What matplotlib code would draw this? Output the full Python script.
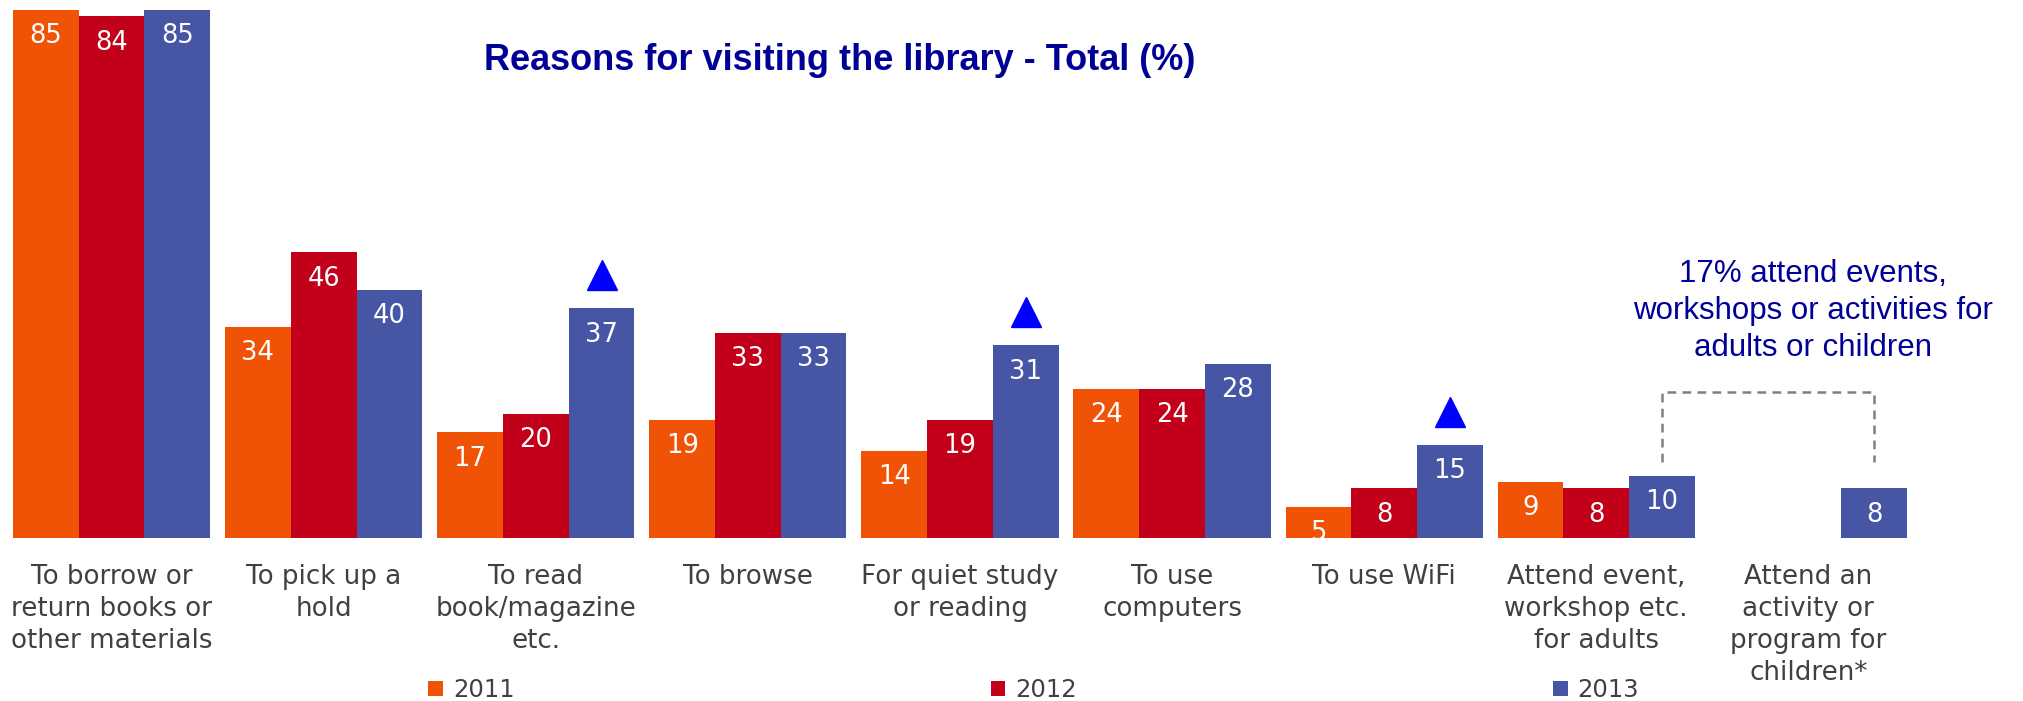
import numpy as np
import matplotlib.pyplot as plt

# survey results, % of visitors
categories = [
    "To borrow or\nreturn books or\nother materials",
    "To pick up a\nhold",
    "To read\nbook/magazine\netc.",
    "To browse",
    "For quiet study\nor reading",
    "To use\ncomputers",
    "To use WiFi",
    "Attend event,\nworkshop etc.\nfor adults",
    "Attend an\nactivity or\nprogram for\nchildren*",
]
y2011 = [85, 34, 17, 19, 14, 24, 5, 9, np.nan]
y2012 = [84, 46, 20, 33, 19, 24, 8, 8, np.nan]
y2013 = [85, 40, 37, 33, 31, 28, 15, 10, 8]
years = ["2011", "2012", "2013"]
# categories with a significant increase in 2013
increase = [2, 4, 6]

colors = ['#F05305', '#C3001A', '#4755A5']
navy = '#000096'

fig = plt.figure(figsize=(20.23, 7.01), dpi=100)
ax = fig.add_axes([0, 0.2325, 1, 0.7675])

x = np.arange(len(categories))
w = 0.31
for i, (vals, c, lab) in enumerate(zip([y2011, y2012, y2013], colors, years)):
    pos = x + (i - 1) * w
    bars = ax.bar(pos, vals, width=w, color=c, label=lab)
    for xp, v in zip(pos, vals):
        if np.isnan(v):
            continue
        ax.annotate(f"{v:g}", (xp, v), xytext=(0, -19), textcoords='offset points',
                    ha='center', va='center', color='white', fontsize=18.5,
                    family='DejaVu Sans')

# up arrows over 2013 bars
for k in increase:
    ax.plot(x[k] + w, y2013[k] + 5.3, marker='^', color='#0000FF', markersize=22,
            linestyle='none')

# bracket joining the two event categories
ax.plot([7 + w, 7 + w, 8 + w, 8 + w], [12.2, 23.5, 23.5, 12.2], color='#808080',
        lw=1.8, linestyle=(0, (3.5, 2.5)))
ax.text(8.02, 36.6, "17% attend events,\nworkshops or activities for\nadults or children",
        ha='center', va='center', color=navy, fontsize=22.5, family='Liberation Sans',
        linespacing=1.3)

ax.set_xlim(-0.526, 9.012)
ax.set_ylim(0, 86.6)
ax.set_xticks(x)
ax.set_xticklabels(categories, fontsize=18.8, color='#404040', family='DejaVu Sans',
                   linespacing=1.3)
ax.tick_params(axis='x', length=0, pad=19)
ax.set_yticks([])
for s in ax.spines.values():
    s.set_visible(False)

fig.text(0.415, 0.913, "Reasons for visiting the library - Total (%)", ha='center',
         va='center', color=navy, fontsize=26, fontweight='bold', family='Liberation Sans')

fig.legend(loc='center', bbox_to_anchor=(0.511, 0.0157), ncol=3, frameon=False,
           prop={'family': 'DejaVu Sans', 'size': 17.5}, labelcolor='#404040',
           handlelength=0.6, handleheight=0.6, handletextpad=0.4, columnspacing=19.6)

fig.savefig("out.png", dpi=100)
